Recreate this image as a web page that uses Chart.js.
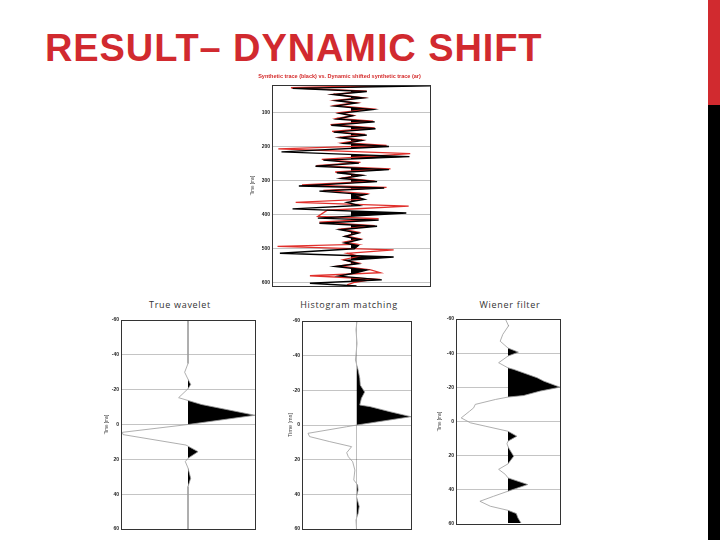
<!DOCTYPE html>
<html>
<head>
<meta charset="utf-8">
<script src="https://cdn.jsdelivr.net/npm/chart.js@4.4.0/dist/chart.umd.min.js"></script>
<style>
  body { margin: 0; background: #fff; width: 720px; height: 540px; overflow: hidden; position: relative; }
  canvas { position: absolute; }
  #title { position: absolute; left: 45px; top: 29px; font: bold 38px "Liberation Sans", Arial, sans-serif; letter-spacing: 0.9px; color: #d12a2f; white-space: nowrap; line-height: 1; }
  .lbl { position: absolute; top: 299px; width: 160px; text-align: center; font: 9px "Open Sans", sans-serif; letter-spacing: 0.7px; color: #333; line-height: 12px; }
  #barRed { position: absolute; left: 708px; top: 0; width: 12px; height: 105px; background: #d12a2f; }
  #barBlack { position: absolute; left: 708px; top: 105px; width: 12px; height: 435px; background: #000; }
</style>
</head>
<body>
<div id="title">RESULT– DYNAMIC SHIFT</div>
<div id="barRed"></div>
<div id="barBlack"></div>
<div class="lbl" style="left:100px">True wavelet</div>
<div class="lbl" style="left:269px">Histogram matching</div>
<div class="lbl" style="left:430px">Wiener filter</div>

<canvas id="main" width="191" height="224" style="left:249px;top:68px"></canvas>
<canvas id="wTrue" width="156" height="219" style="left:103px;top:315px"></canvas>
<canvas id="wHist" width="129" height="218" style="left:286px;top:316px"></canvas>
<canvas id="wWien" width="128" height="215" style="left:436px;top:314px"></canvas>

<script>
// synthetic trace (black) and dynamically shifted trace (red), time in ms
const blackTime = [18, 22, 30, 39, 48, 58, 66, 73, 82, 92, 103, 110, 120, 128, 138, 148, 158, 167, 175, 183,
  191, 200, 216, 230, 240, 249, 258, 268, 277, 285, 294, 303, 316, 322, 331, 341, 348, 355, 364, 373,
  383, 395, 410, 416, 425, 434, 444, 454, 464, 473, 483, 491, 500, 513, 524, 534, 544, 552, 562, 571,
  580, 591, 601, 609];
const blackAmp = [0.02, 1.0, -0.74, 0.2, -0.22, 0.15, -0.18, 0.06, -0.2, 0.27, -0.14, 0.02, -0.17, 0.3, -0.25, 0.31, -0.22, 0.2, -0.13, 0.13,
  -0.08, 0.48, -0.88, 0.74, -0.35, 0.1, -0.45, 0.48, -0.18, 0.14, -0.12, 0.33, -0.66, 0.42, -0.4, 0.18, 0.05, 0.17, -0.05, 0.1,
  -0.74, 0.7, -0.42, 0.35, -0.4, 0.33, -0.14, 0.09, -0.08, 0.11, -0.08, 0.09, 0.04, -0.9, 0.54, -0.06, 0.09, -0.2, 0.2, 0.05,
  -0.15, 0.39, -0.52, 0.07];
const redTime = [18, 20, 28, 38, 47, 57, 65, 72, 80, 90, 101, 109, 118, 126, 136, 146, 156, 165, 173, 181,
  189, 197, 207, 221, 238, 247, 256, 266, 275, 284, 292, 302, 313, 320, 329, 338, 346, 355, 364, 375,
  387, 405, 412, 422, 432, 442, 452, 462, 471, 480, 487, 493, 503, 513, 522, 532, 542, 550, 562, 570,
  579, 589, 598, 606];
const redAmp = [0.02, 0.6, -0.76, 0.2, -0.22, 0.15, -0.2, 0.07, -0.2, 0.26, -0.15, 0.03, -0.18, 0.28, -0.26, 0.3, -0.24, 0.18, -0.14, 0.14,
  -0.1, 0.45, -0.92, 0.75, -0.37, 0.12, -0.44, 0.5, -0.2, 0.12, -0.1, 0.3, -0.62, 0.45, -0.35, 0.2, 0.08, 0.15, -0.7, 0.73,
  -0.3, -0.42, 0.35, -0.4, 0.3, -0.12, 0.1, -0.06, 0.12, -0.08, 0.08, -0.93, 0.54, -0.05, 0.1, -0.1, 0.1, -0.15, 0.25, 0.37,
  -0.52, 0.3, 0.05, -0.05];
const mainTicks = [100, 200, 300, 400, 500, 600];

// wavelets, time in ms
const trueTime = [-60, -35, -30, -26, -23, -20.5, -15.4, -11.5, -5.3, 0, 4.5, 5.8, 11.8, 15.6, 19.4, 21.3, 25, 30.9, 35.6, 60];
const trueAmp = [0, 0, -0.05, 0, 0.04, 0, -0.14, 0.2, 1.0, 0, -0.98, -0.97, -0.03, 0.15, 0, -0.04, 0, 0.04, 0, 0];
const histTime = [-60, -55, -47, -37.5, -31.7, -27, -23, -19, -15.4, -11.5, -10.6, -7.7, -4.8, 0, 1, 4.8, 6.7, 9.6, 12.5, 16,
  18.3, 21.2, 26, 31.7, 34.6, 37.5, 41.3, 47, 51, 54.8, 60];
const histAmp = [0.01, -0.01, 0.01, -0.02, 0.03, 0.06, 0.07, 0.15, 0.09, 0.06, 0.25, 0.61, 1.0, 0.01, -0.18, -0.89, -0.86, -0.49, -0.09, -0.18,
  -0.15, -0.07, -0.03, -0.05, 0.02, 0.03, 0, 0.05, 0.03, -0.01, 0];
const wienTime = [-60, -56, -51, -47, -43, -40.6, -38.3, -34.4, -31.4, -30.5, -25.6, -23.6, -20.1, -17.8, -15.2, -14.3, -12.9, -10, -8, -6,
  -2.1, 0.8, 2.7, 5.7, 8.6, 11.5, 13, 15.4, 20.3, 24.8, 28, 31, 33, 36.9, 40.8, 43.8, 46.7, 49.6, 52, 53.9, 56.4, 59.4];
const wienAmp = [-0.05, 0.01, -0.1, -0.15, 0, 0.2, 0, -0.18, 0, 0.11, 0.56, 0.69, 1.0, 0.62, 0.3, 0, -0.24, -0.63, -0.66, -0.74,
  -0.9, -0.72, -0.44, 0, 0.17, 0, -0.02, 0.01, 0.11, 0, -0.18, -0.05, 0, 0.38, 0, -0.28, -0.54, -0.34, 0, 0.16, 0.19, 0.25];
const waveTicks = [-60, -40, -20, 0, 20, 40, 60];

function pairs(times, amps) {
  return times.map((t, i) => ({ x: amps[i], y: t }));
}

// fills the positive lobes of a wiggle trace and draws the frame
const wigglePlugin = {
  id: 'wiggle',
  beforeDatasetsDraw(chart) {
    const { ctx, chartArea: a } = chart;
    const zero = chart.scales.x.getPixelForValue(0);
    chart.data.datasets.forEach((ds, i) => {
      if (!ds.posFill) return;
      const pts = chart.getDatasetMeta(i).data;
      ctx.save();
      ctx.beginPath();
      ctx.rect(zero, a.top, a.right - zero, a.bottom - a.top);
      ctx.clip();
      ctx.beginPath();
      ctx.moveTo(zero, pts[0].y);
      pts.forEach(p => ctx.lineTo(p.x, p.y));
      ctx.lineTo(zero, pts[pts.length - 1].y);
      ctx.closePath();
      ctx.fillStyle = ds.posFill;
      ctx.fill();
      ctx.restore();
    });
  },
  afterDraw(chart) {
    const { ctx, chartArea: a } = chart;
    ctx.save();
    ctx.strokeStyle = '#333';
    ctx.lineWidth = 1;
    ctx.strokeRect(Math.round(a.left) + 0.5, Math.round(a.top) + 0.5, Math.round(a.right - a.left), Math.round(a.bottom - a.top));
    ctx.restore();
  }
};

function makeWiggle(id, o) {
  return new Chart(document.getElementById(id), {
    type: 'line',
    data: { datasets: o.datasets },
    options: {
      indexAxis: 'y',
      responsive: false,
      animation: false,
      devicePixelRatio: 1,
      layout: { padding: o.padding },
      elements: { point: { radius: 0 }, line: { tension: 0 } },
      plugins: {
        legend: { display: false },
        tooltip: { enabled: false },
        title: o.title || { display: false }
      },
      scales: {
        x: { type: 'linear', min: -1, max: 1, display: false },
        y: {
          type: 'linear',
          reverse: true,
          min: o.min,
          max: o.max,
          afterBuildTicks: s => { s.ticks = o.ticks.map(v => ({ value: v })); },
          afterFit: s => { s.width = o.axisW; },
          border: { display: false },
          grid: { color: '#c4c4c4', lineWidth: 1, drawTicks: false },
          ticks: { color: '#222', font: { size: 5, weight: 'bold' }, padding: 2, autoSkip: false },
          title: {
            display: true, text: 'Time [ms]', color: '#444',
            font: { size: o.ySize || 4.5 }, padding: { top: 1, bottom: 0 }
          }
        }
      }
    },
    plugins: [wigglePlugin]
  });
}

makeWiggle('main', {
  min: 20, max: 609, ticks: mainTicks, axisW: 23,
  padding: { left: 0, right: 10, top: 0, bottom: 6 },
  title: {
    display: true,
    text: 'Synthetic trace (black) vs. Dynamic shifted synthetic trace (ar)',
    color: '#d42a2a',
    font: { size: 5.5, weight: 'bold' },
    padding: { top: 5, bottom: 5.4 }
  },
  datasets: [
    { data: pairs(blackTime, blackAmp), borderColor: '#000', borderWidth: 1.4, posFill: '#000' },
    { data: pairs(redTime, redAmp), borderColor: '#e0302c', borderWidth: 1.3 }
  ]
});

const waveLine = { borderColor: '#9a9a9a', borderWidth: 0.8, posFill: '#000' };

makeWiggle('wTrue', {
  min: -60, max: 60, ticks: waveTicks, axisW: 18,
  padding: { left: 0, right: 4, top: 5, bottom: 5 },
  datasets: [Object.assign({ data: pairs(trueTime, trueAmp) }, waveLine)]
});
makeWiggle('wHist', {
  min: -60, max: 60, ticks: waveTicks, axisW: 16, ySize: 5.5,
  padding: { left: 0, right: 4, top: 5, bottom: 5 },
  datasets: [Object.assign({ data: pairs(histTime, histAmp) }, waveLine)]
});
makeWiggle('wWien', {
  min: -60, max: 60, ticks: waveTicks, axisW: 20,
  padding: { left: 0, right: 4, top: 5, bottom: 5 },
  datasets: [Object.assign({ data: pairs(wienTime, wienAmp) }, waveLine)]
});
</script>
</body>
</html>
